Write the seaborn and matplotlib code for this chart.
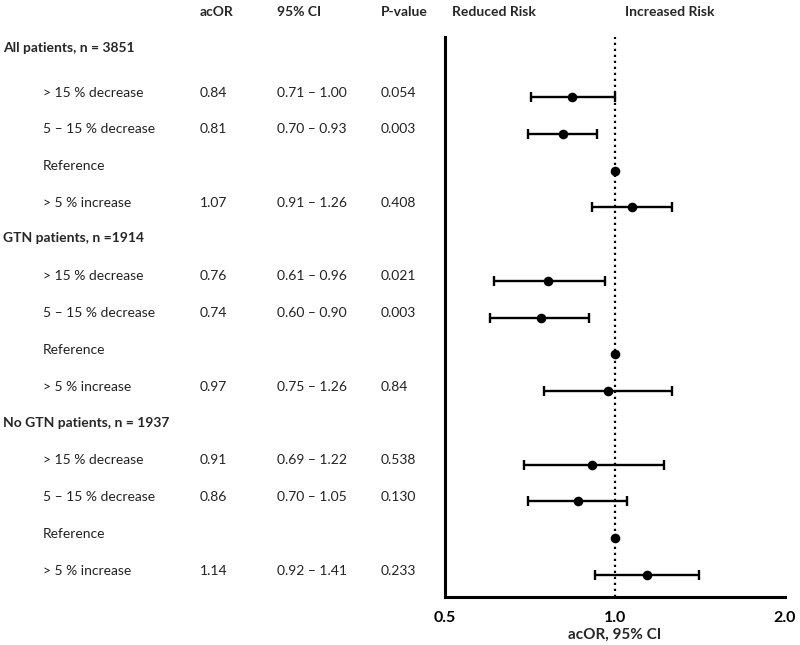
import matplotlib
matplotlib.use("Agg")
import numpy as np
import pandas as pd
import seaborn as sns
import matplotlib.pyplot as plt
from matplotlib import transforms
from matplotlib.ticker import NullLocator, FixedLocator

sns.set_style("white")
plt.rcParams['font.family'] = ['Lato', 'DejaVu Sans']

# ---------------- data ----------------
group_titles = ["All patients, n = 3851", "GTN patients, n =1914", "No GTN patients, n = 1937"]
row_labels = ["> 15 % decrease", "5 \u2013 15 % decrease", "Reference", "> 5 % increase"]

acor_all = [0.84, 0.81, 1.00, 1.07]
acor_gtn = [0.76, 0.74, 1.00, 0.97]
acor_nogtn = [0.91, 0.86, 1.00, 1.14]

low_all = [0.71, 0.70, np.nan, 0.91]
low_gtn = [0.61, 0.60, np.nan, 0.75]
low_nogtn = [0.69, 0.70, np.nan, 0.92]

high_all = [1.00, 0.93, np.nan, 1.26]
high_gtn = [0.96, 0.90, np.nan, 1.26]
high_nogtn = [1.22, 1.05, np.nan, 1.41]

p_all = ["0.054", "0.003", "", "0.408"]
p_gtn = ["0.021", "0.003", "", "0.84"]
p_nogtn = ["0.538", "0.130", "", "0.233"]

tick_values = [0.5, 1.0, 2.0]
tick_labels = ["0.5", "1.0", "2.0"]
col_headers = ["acOR", "95% CI", "P-value", "Reduced Risk", "Increased Risk"]

acors = [acor_all, acor_gtn, acor_nogtn]
lows = [low_all, low_gtn, low_nogtn]
highs = [high_all, high_gtn, high_nogtn]
pvals = [p_all, p_gtn, p_nogtn]

records = []
for g in range(3):
    for i in range(4):
        records.append(dict(group=g, label=row_labels[i], row=g * 5 + 1 + i,
                            acor=acors[g][i], low=lows[g][i], high=highs[g][i],
                            p=pvals[g][i]))
df = pd.DataFrame(records)

# ---------------- figure ----------------
W, H = 800, 645
fig = plt.figure(figsize=(W / 100, H / 100), dpi=100)
ax = fig.add_axes([445 / W, (H - 597) / H, 340 / W, 560 / H])
ax.set_xscale('log')

ax.axvline(1.0, color='black', ls=(0, (1, 1.7)), lw=1.6, zorder=1)

ci = df.dropna(subset=['low'])
ax.errorbar(ci['acor'], ci['row'],
            xerr=[ci['acor'] - ci['low'], ci['high'] - ci['acor']],
            fmt='none', ecolor='black', elinewidth=1.7, capsize=3.8, capthick=1.7, zorder=2)
sns.scatterplot(data=df, x='acor', y='row', ax=ax, color='black', s=48,
                edgecolor='black', linewidth=0, zorder=3, legend=False)

ax.set_xlim(0.5, 2.0)
ax.set_ylim(14.6, -0.631)
ax.xaxis.set_major_locator(FixedLocator(tick_values))
ax.xaxis.set_minor_locator(NullLocator())
ax.set_xticklabels(tick_labels, fontweight='bold', fontsize=11.5)
ax.set_yticks([])
ax.set_ylabel('')
ax.set_xlabel('acOR, 95% CI', fontweight='bold', fontsize=11, labelpad=2)
for s in ['top', 'right']:
    ax.spines[s].set_visible(False)
for s in ['left', 'bottom']:
    ax.spines[s].set_linewidth(2.2)
    ax.spines[s].set_color('black')
ax.tick_params(axis='x', direction='out', length=5, width=2.2, pad=5, colors='black')

# ---------------- table text ----------------
trans = transforms.blended_transform_factory(fig.transFigure, ax.transData)
fs = 10
x_title, x_label, x_or, x_ci, x_p = 3 / W, 43 / W, 200 / W, 277 / W, 381 / W
header_off = [-0.33, -0.17, -0.12]
for g, title in enumerate(group_titles):
    fig.text(x_title, g * 5 + header_off[g], title, transform=trans, fontsize=fs,
             fontweight='bold', va='center', ha='left')
for _, r in df.iterrows():
    y = r['row'] - 0.12
    fig.text(x_label, y, r['label'], transform=trans, fontsize=fs, va='center', color='#222222')
    if r['label'] != "Reference":
        fig.text(x_or, y, f"{r['acor']:.2f}", transform=trans, fontsize=fs, va='center', color='#222222')
        fig.text(x_ci, y, f"{r['low']:.2f} \u2013 {r['high']:.2f}", transform=trans, fontsize=fs,
                 va='center', color='#222222')
        fig.text(x_p, y, r['p'], transform=trans, fontsize=fs, va='center', color='#222222')

hx = [200, 277, 381, 452, 625]
for x, t in zip(hx, col_headers):
    fig.text(x / W, 1 - 12 / H, t, fontsize=fs, fontweight='bold', va='center', ha='left')

fig.savefig('out.png', dpi=100)
